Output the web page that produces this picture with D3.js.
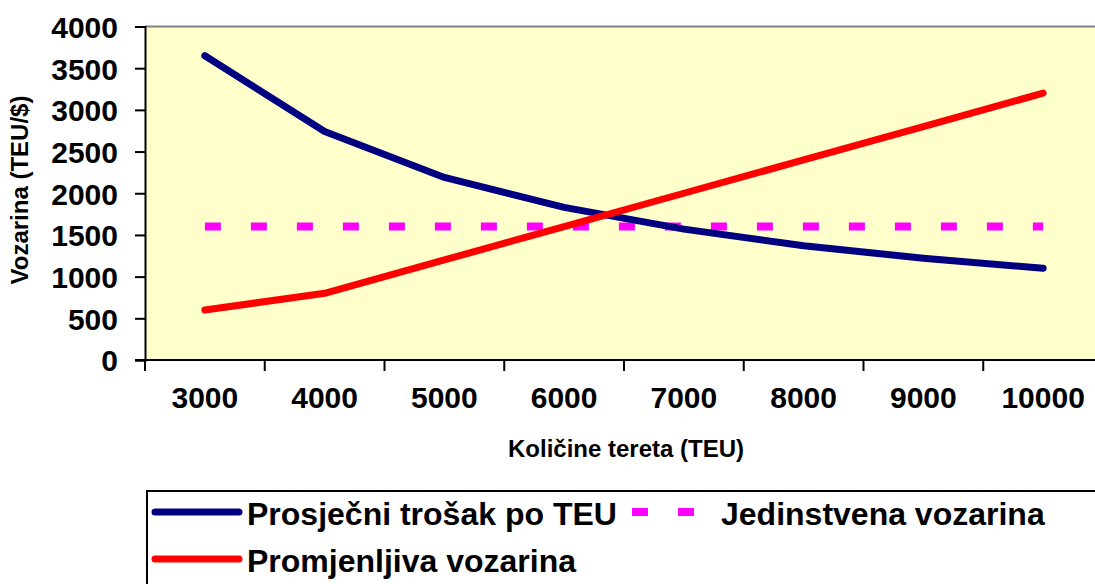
<!DOCTYPE html>
<html>
<head>
<meta charset="utf-8">
<script src="https://cdn.jsdelivr.net/npm/d3@7"></script>
<style>
  body { margin: 0; background: #fff; }
  svg { display: block; font-family: Arial, "Liberation Sans", sans-serif; font-weight: bold; }
</style>
</head>
<body>
<div id="chart"></div>
<script>
// data
var kolicine = ["3000", "4000", "5000", "6000", "7000", "8000", "9000", "10000"];
var prosjecniTrosak = [3650, 2740, 2190, 1830, 1570, 1370, 1220, 1100];
var jedinstvena = [1600, 1600, 1600, 1600, 1600, 1600, 1600, 1600];
var promjenljiva = [600, 800, 1200, 1600, 2000, 2400, 2800, 3200];
var yTicks = [0, 500, 1000, 1500, 2000, 2500, 3000, 3500, 4000];

var w = 1095, h = 584;
var plot = { left: 145, top: 26.5, right: 1103, bottom: 360 };

var svg = d3.select("#chart").append("svg")
    .attr("width", w)
    .attr("height", h);

var x = d3.scaleBand()
    .domain(kolicine)
    .range([plot.left, plot.right]);

var y = d3.scaleLinear()
    .domain([0, 4000])
    .range([plot.bottom, plot.top]);

// plot background
svg.append("rect")
    .attr("x", plot.left)
    .attr("y", plot.top)
    .attr("width", plot.right - plot.left)
    .attr("height", plot.bottom - plot.top)
    .attr("fill", "#ffffcc");

svg.append("line")
    .attr("x1", plot.left).attr("x2", plot.right)
    .attr("y1", plot.top).attr("y2", plot.top)
    .attr("stroke", "#808080")
    .attr("stroke-width", 2);

// y axis
var yAxis = svg.append("g")
    .attr("transform", "translate(" + plot.left + ",0)")
    .call(d3.axisLeft(y).tickValues(yTicks).tickSize(10).tickPadding(17).tickFormat(d3.format("d")));
yAxis.select(".domain").attr("stroke", "#000").attr("stroke-width", 2);
yAxis.selectAll(".tick line").attr("stroke", "#000").attr("stroke-width", 2);
yAxis.selectAll(".tick text")
    .attr("fill", "#000")
    .style("font-size", "30px")
    .style("font-weight", "bold")
    .attr("dy", "0.36em");

// x axis, ticks between categories
var xAxis = svg.append("g")
    .attr("transform", "translate(0," + plot.bottom + ")");
xAxis.append("line")
    .attr("x1", plot.left - 10).attr("x2", plot.right)
    .attr("stroke", "#000").attr("stroke-width", 2);
xAxis.selectAll(".xtick")
    .data(kolicine)
    .enter().append("line")
    .attr("class", "xtick")
    .attr("x1", function(d){ return x(d); })
    .attr("x2", function(d){ return x(d); })
    .attr("y1", 0).attr("y2", 11)
    .attr("stroke", "#000").attr("stroke-width", 2);
xAxis.selectAll(".xlab")
    .data(kolicine)
    .enter().append("text")
    .attr("class", "xlab")
    .attr("x", function(d){ return x(d) + x.bandwidth() / 2; })
    .attr("y", 48)
    .attr("text-anchor", "middle")
    .style("font-size", "30px")
    .text(function(d){ return d; });

// axis titles
svg.append("text")
    .attr("x", 626)
    .attr("y", 457)
    .attr("text-anchor", "middle")
    .style("font-size", "24px")
    .text("Količine tereta (TEU)");

svg.append("text")
    .attr("transform", "translate(28,190) rotate(-90)")
    .attr("text-anchor", "middle")
    .style("font-size", "24px")
    .text("Vozarina (TEU/$)");

// series
var line = d3.line()
    .x(function(d, i){ return x(kolicine[i]) + x.bandwidth() / 2; })
    .y(function(d){ return y(d); });

svg.append("path")
    .datum(jedinstvena)
    .attr("d", line)
    .attr("fill", "none")
    .attr("stroke", "#ff00ff")
    .attr("stroke-width", 8)
    .attr("stroke-dasharray", "16,30");

svg.append("path")
    .datum(prosjecniTrosak)
    .attr("d", line)
    .attr("fill", "none")
    .attr("stroke", "#000080")
    .attr("stroke-width", 7)
    .attr("stroke-linecap", "round")
    .attr("stroke-linejoin", "round");

svg.append("path")
    .datum(promjenljiva)
    .attr("d", line)
    .attr("fill", "none")
    .attr("stroke", "#ff0000")
    .attr("stroke-width", 7)
    .attr("stroke-linecap", "round")
    .attr("stroke-linejoin", "round");

// legend
var leg = svg.append("g");
leg.append("rect")
    .attr("x", 147).attr("y", 491)
    .attr("width", 1100).attr("height", 200)
    .attr("fill", "#fff")
    .attr("stroke", "#000")
    .attr("stroke-width", 2);

var legItems = [
    { name: "Prosječni trošak po TEU", color: "#000080", lx: 155, ly: 512, dash: null },
    { name: "Jedinstvena vozarina", color: "#ff00ff", lx: 632, ly: 512, dash: "16,30" },
    { name: "Promjenljiva vozarina", color: "#ff0000", lx: 155, ly: 559, dash: null }
];

legItems.forEach(function(it){
    if (it.dash) {
        leg.append("line")
            .attr("x1", it.lx).attr("x2", it.lx + 62)
            .attr("y1", it.ly).attr("y2", it.ly)
            .attr("stroke", it.color)
            .attr("stroke-width", 8)
            .attr("stroke-dasharray", it.dash);
        leg.append("text")
            .attr("x", it.lx + 89)
            .attr("y", it.ly + 13)
            .style("font-size", "32px")
            .text(it.name);
    } else {
        leg.append("line")
            .attr("x1", it.lx).attr("x2", it.lx + 84)
            .attr("y1", it.ly).attr("y2", it.ly)
            .attr("stroke", it.color)
            .attr("stroke-width", 7)
            .attr("stroke-linecap", "round");
        leg.append("text")
            .attr("x", it.lx + 92)
            .attr("y", it.ly + 13)
            .style("font-size", "32px")
            .text(it.name);
    }
});
</script>
</body>
</html>
